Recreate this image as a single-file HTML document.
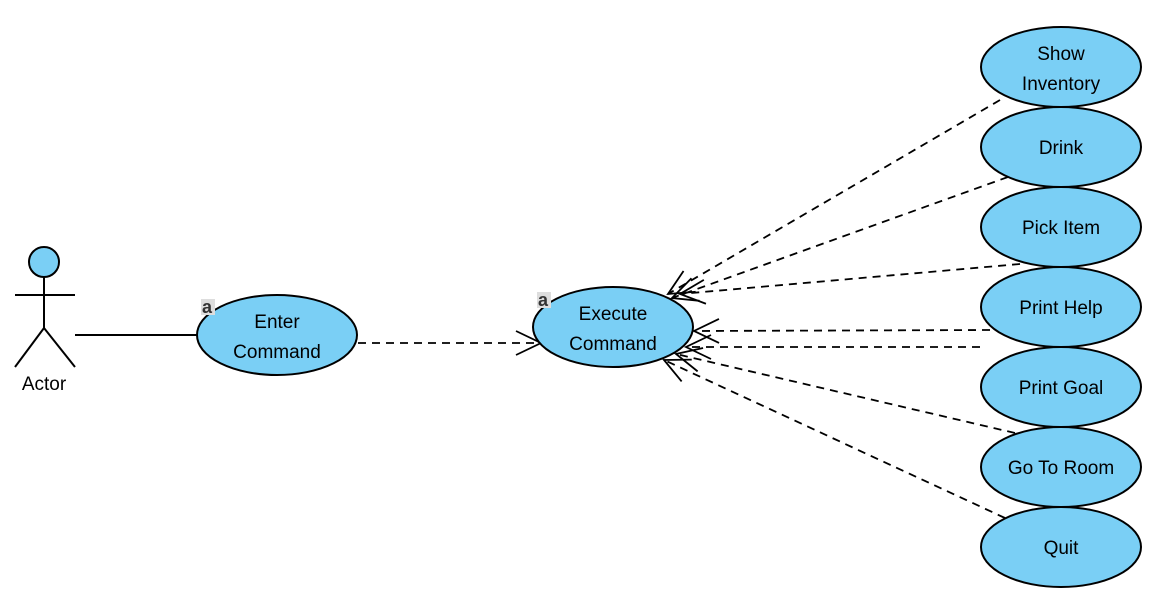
<!DOCTYPE html>
<html><head><meta charset="utf-8"><style>
html,body{margin:0;padding:0;background:#fff;}
svg{display:block;}
text{font-family:"Liberation Sans",Arial,sans-serif;font-size:19px;fill:#000;}
</style></head><body>
<svg width="1158" height="605" viewBox="0 0 1158 605" xmlns="http://www.w3.org/2000/svg">
<defs>
<marker id="a" markerWidth="30" markerHeight="26" refX="26" refY="13" orient="auto" markerUnits="userSpaceOnUse">
<path d="M1,1 L26,13 L1,25" fill="none" stroke="#000" stroke-width="1.8"/>
</marker>
</defs>
<g stroke="#000" stroke-width="2" fill="none">
<circle cx="44" cy="262" r="15" fill="#7acff5"/>
<line x1="44" y1="277" x2="44" y2="328"/>
<line x1="15" y1="295" x2="75" y2="295"/>
<line x1="44" y1="328" x2="15" y2="367"/>
<line x1="44" y1="328" x2="75" y2="367"/>
<line x1="75" y1="335" x2="198" y2="335"/>
</g>
<text x="44" y="390" text-anchor="middle">Actor</text>
<g stroke="#000" stroke-width="1.8" fill="none" stroke-dasharray="8,6" marker-end="url(#a)">
<line x1="358" y1="343" x2="541" y2="343"/>
<line x1="1000" y1="100" x2="668" y2="294"/>
<line x1="1008" y1="177" x2="672" y2="298"/>
<line x1="1020" y1="264" x2="680" y2="294"/>
<line x1="990" y1="330" x2="694" y2="331"/>
<line x1="980" y1="347" x2="686" y2="347"/>
<line x1="1015" y1="433" x2="676" y2="354"/>
<line x1="1005" y1="518" x2="664" y2="360"/>
</g>
<g stroke="#000" stroke-width="2" fill="#7acff5">
<ellipse cx="277" cy="335" rx="80" ry="40"/>
<ellipse cx="613" cy="327" rx="80" ry="40"/>
<ellipse cx="1061" cy="67" rx="80" ry="40"/>
<ellipse cx="1061" cy="147" rx="80" ry="40"/>
<ellipse cx="1061" cy="227" rx="80" ry="40"/>
<ellipse cx="1061" cy="307" rx="80" ry="40"/>
<ellipse cx="1061" cy="387" rx="80" ry="40"/>
<ellipse cx="1061" cy="467" rx="80" ry="40"/>
<ellipse cx="1061" cy="547" rx="80" ry="40"/>
</g>
<g text-anchor="middle">
<text x="277" y="328">Enter</text><text x="277" y="358">Command</text>
<text x="613" y="320">Execute</text><text x="613" y="350">Command</text>
<text x="1061" y="60">Show</text><text x="1061" y="90">Inventory</text>
<text x="1061" y="154">Drink</text>
<text x="1061" y="234">Pick Item</text>
<text x="1061" y="314">Print Help</text>
<text x="1061" y="394">Print Goal</text>
<text x="1061" y="474">Go To Room</text>
<text x="1061" y="554">Quit</text>
</g>
<rect x="201" y="299" width="14" height="16" fill="#ddd"/>
<rect x="537" y="292" width="14" height="16" fill="#ddd"/>
<text x="202" y="313" style="font-size:18px;font-weight:bold;fill:#333">a</text>
<text x="538" y="306" style="font-size:18px;font-weight:bold;fill:#333">a</text>
</svg>
</body></html>
